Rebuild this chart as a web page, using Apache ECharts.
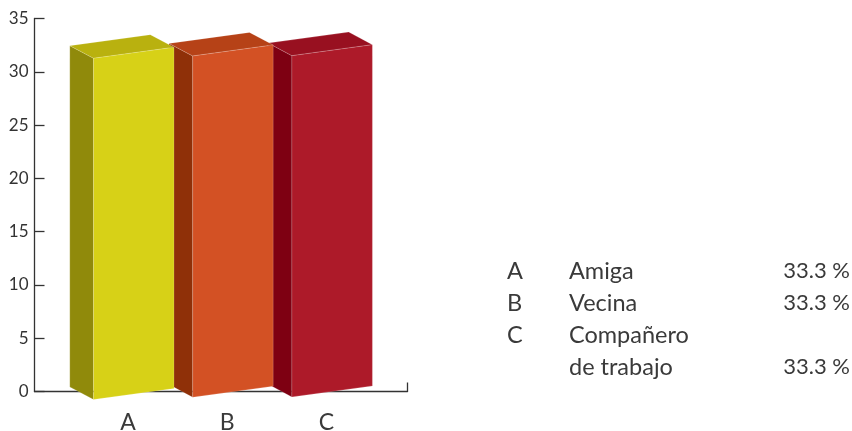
<!DOCTYPE html>
<html><head><meta charset="utf-8">
<style>html,body{margin:0;padding:0;background:#fff}#c{width:852px;height:431px}</style>
<script src="https://cdn.jsdelivr.net/npm/echarts@6/dist/echarts.min.js"></script>
</head><body><div id="c"></div>
<script>
const categories = ['A', 'B', 'C'];
const values = [33.3, 33.3, 33.3];
const yTicks = [0, 5, 10, 15, 20, 25, 30, 35];
const legendNames = [['Amiga'], ['Vecina'], ['Compañero', 'de trabajo']];
const legendPercents = ['33.3 %', '33.3 %', '33.3 %'];

const faceColors = [
  { front: '#D7D117', side: '#908A0B', top: '#B9B10F' },
  { front: '#D35124', side: '#8F3008', top: '#B64217' },
  { front: '#AD1A29', side: '#7E0012', top: '#981020' }
];
const baseDrop = [8, 5.7, 5.4];
const FONT = 'Lato';
const TEXT = '#333333';

const chart = echarts.init(document.getElementById('c'));

function renderBar(params, api) {
  const i = api.value(0), v = api.value(1);
  const c = api.coord([i, 0]);
  const h = api.size([0, v])[1] * 0.9615;
  const xL = c[0] - 34.5, w = 80.5, rise = 11, dx = 23.7, dy = 12.6;
  const yB = c[1] + baseDrop[i];
  const yT = yB - h;
  const col = faceColors[i];
  const edge = 'rgba(255,255,255,0.28)';
  const z = 10 - i;
  const poly = (pts, fill) => ({
    type: 'polygon', z2: z,
    shape: { points: pts },
    style: { fill: fill, stroke: edge, lineWidth: 0.6 }
  });
  return {
    type: 'group',
    children: [
      poly([[xL, yT], [xL - dx, yT - dy], [xL - dx, yB - dy], [xL, yB]], col.side),
      poly([[xL, yT], [xL - dx, yT - dy], [xL - dx + w, yT - dy - rise], [xL + w, yT - rise]], col.top),
      poly([[xL, yT], [xL + w, yT - rise], [xL + w, yB - rise], [xL, yB]], col.front)
    ]
  };
}

const graphics = [];
let row = 0;
const rowTop = 259, rowGap = 32;
const nameStyle = { fontFamily: FONT, fontSize: 23.5, fill: '#3a3a3a' };
const numStyle = { fontFamily: FONT, fontSize: 22, fill: '#3a3a3a' };
legendNames.forEach((lines, k) => {
  graphics.push({ type: 'text', left: 507, top: rowTop + row * rowGap,
    style: Object.assign({ text: categories[k] }, nameStyle) });
  lines.forEach((ln, j) => {
    graphics.push({ type: 'text', left: 569, top: rowTop + (row + j) * rowGap,
      style: Object.assign({ text: ln }, nameStyle) });
  });
  row += lines.length;
  graphics.push({ type: 'text', right: 2, top: rowTop + (row - 1) * rowGap + 1,
    style: Object.assign({ text: legendPercents[k] }, numStyle) });
});

const xMin = -0.9425, xMax = 2.8175;

chart.setOption({
  animation: false,
  backgroundColor: '#fff',
  grid: { left: 34.5, top: 18.5, width: 373, height: 373, containLabel: false, outerBoundsMode: 'none' },
  xAxis: {
    type: 'value', min: xMin, max: xMax,
    splitLine: { show: false },
    axisLine: { show: true, onZero: false, lineStyle: { color: TEXT, width: 1.3 } },
    axisTick: { show: true, inside: true, length: 9, customValues: [xMax], lineStyle: { color: TEXT, width: 1.3 } },
    axisLabel: {
      customValues: [0, 1, 2], margin: 20,
      formatter: v => categories[Math.round(v)],
      fontFamily: FONT, fontSize: 23, color: '#3a3a3a'
    }
  },
  yAxis: {
    type: 'value', min: 0, max: 35, interval: 5,
    splitLine: { show: false },
    axisLine: { show: true, onZero: false, lineStyle: { color: TEXT, width: 1.3 } },
    axisTick: { show: true, inside: true, length: 10, lineStyle: { color: TEXT, width: 1.3 } },
    axisLabel: {
      margin: 6, fontFamily: FONT, fontSize: 17, color: '#333', padding: [9, 0, 0, 0],
      formatter: v => yTicks.includes(v) ? String(v) : ''
    }
  },
  graphic: graphics,
  series: [{
    type: 'custom',
    renderItem: renderBar,
    encode: { x: 0, y: 1 },
    clip: false,
    z: 5,
    data: values.map((v, i) => [i, v])
  }]
});
</script></body></html>
